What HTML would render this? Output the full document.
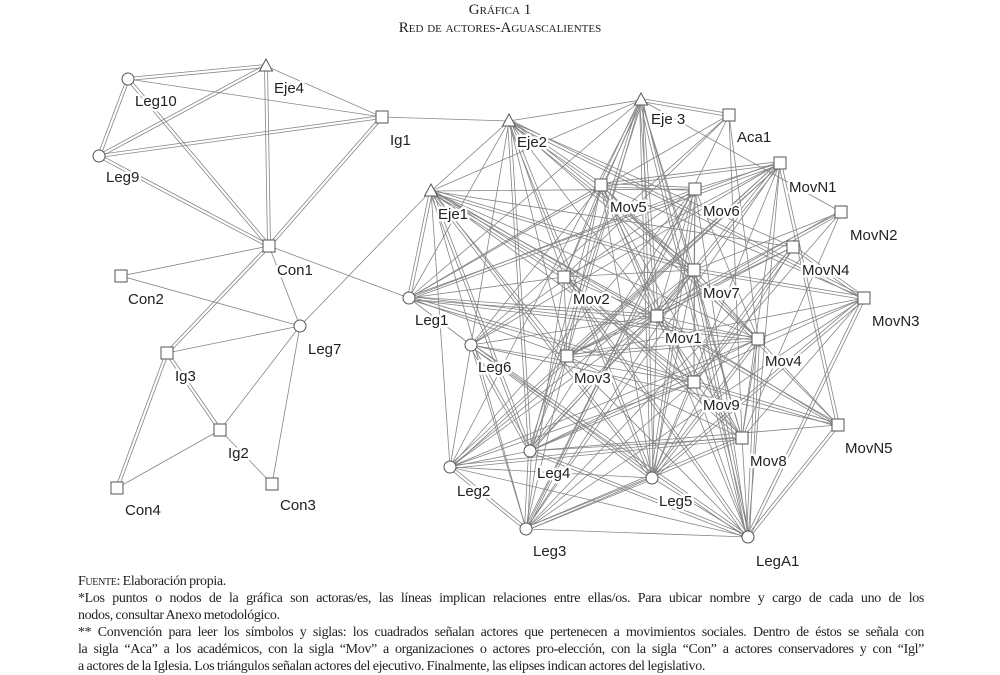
<!DOCTYPE html>
<html><head><meta charset="utf-8">
<style>
html,body{margin:0;padding:0;background:#fff;width:1000px;height:675px;overflow:hidden}
.t{position:absolute;left:0;width:1000px;text-align:center;font-family:"Liberation Serif",serif;font-variant:small-caps;font-size:15px;color:#222}
.foot{position:absolute;left:78px;top:573px;width:846px;font-family:"Liberation Serif",serif;font-size:14px;letter-spacing:-0.35px;word-spacing:-0.5px;line-height:17px;color:#222}
.foot div{text-align:justify;text-align-last:justify;white-space:nowrap}
.foot div.l{text-align-last:left}
svg{position:absolute;left:0;top:0}
</style></head><body>
<div class="t" style="top:2px">Gráfica 1</div>
<div class="t" style="top:20px">Red de actores-Aguascalientes</div>
<svg id="s" width="1000" height="675" xmlns="http://www.w3.org/2000/svg"></svg>
<div class="foot">
<div class="l"><span style="font-variant:small-caps">Fuente</span>: Elaboración propia.</div>
<div>*Los puntos o nodos de la gráfica son actoras/es, las líneas implican relaciones entre ellas/os. Para ubicar nombre y cargo de cada uno de los</div>
<div class="l">nodos, consultar Anexo metodológico.</div>
<div>** Convención para leer los símbolos y siglas: los cuadrados señalan actores que pertenecen a movimientos sociales. Dentro de éstos se señala con</div>
<div>la sigla “Aca” a los académicos, con la sigla “Mov” a organizaciones o actores pro-elección, con la sigla “Con” a actores conservadores y con “Igl”</div>
<div class="l">a actores de la Iglesia. Los triángulos señalan actores del ejecutivo. Finalmente, las elipses indican actores del legislativo.</div>
</div>
<script>
var N={
Leg10:[128,79,'c',135,106],Eje4:[266,66,'t',274,93],Ig1:[382,117,'s',390,145],Leg9:[99,156,'c',106,182],
Con1:[269,246,'s',277,275],Con2:[121,276,'s',128,304],Leg7:[300,326,'c',308,354],Ig3:[167,353,'s',175,381],
Ig2:[220,430,'s',228,458],Con4:[117,488,'s',125,515],Con3:[272,484,'s',280,510],
Eje3:[641,100,'t',651,124],Eje2:[509,121,'t',517,147],Aca1:[729,115,'s',737,142],MovN1:[780,163,'s',789,192],
Mov5:[601,185,'s',610,212],Mov6:[695,189,'s',703,216],Eje1:[431,191,'t',438,219],MovN2:[841,212,'s',850,240],
MovN4:[793,247,'s',802,275],Mov2:[564,277,'s',573,304],Mov7:[694,270,'s',703,298],Leg1:[409,298,'c',415,325],
MovN3:[864,298,'s',872,326],Mov1:[657,316,'s',665,343],Mov4:[758,339,'s',765,366],Leg6:[471,345,'c',478,372],
Mov3:[567,356,'s',574,383],Mov9:[694,382,'s',703,410],Mov8:[742,438,'s',750,466],MovN5:[838,425,'s',845,453],
Leg4:[530,451,'c',537,478],Leg2:[450,467,'c',457,496],Leg5:[652,478,'c',659,506],Leg3:[526,529,'c',533,556],
LegA1:[748,537,'c',756,566]};
var E=[['Leg10','Eje4',2],['Leg10','Ig1',1],['Leg10','Leg9',2],['Leg10','Con1',2],['Leg9','Eje4',2],['Leg9','Ig1',2],
['Leg9','Con1',2],['Eje4','Ig1',1],['Eje4','Con1',2],['Ig1','Con1',2],['Ig1','Eje2',1],['Con1','Con2',1],['Con1','Leg1',1],
['Con1','Leg7',1],['Con1','Ig3',2],['Con2','Leg7',1],['Leg7','Ig3',1],['Leg7','Ig2',1],['Leg7','Con3',1],['Leg7','Eje1',1],
['Ig3','Ig2',2],['Ig3','Con4',2],['Ig2','Con4',1],['Ig2','Con3',1]];
var R=['Eje3','Eje2','Aca1','MovN1','Mov5','Mov6','Eje1','MovN2','MovN4','Mov2','Mov7','Leg1','MovN3','Mov1','Mov4','Leg6','Mov3','Mov9','Mov8','MovN5','Leg4','Leg2','Leg5','Leg3','LegA1'];
var seed=7;function rnd(){seed=(seed*9301+49297)%233280;return seed/233280;}
for(var i=0;i<R.length;i++)for(var j=i+1;j<R.length;j++){
 var a=R[i],b=R[j],p=0.72;
 if(a.indexOf('MovN')==0||b.indexOf('MovN')==0||a=='Aca1'||b=='Aca1')p=0.35;
 var dx=N[a][0]-N[b][0],dy=N[a][1]-N[b][1];if(Math.sqrt(dx*dx+dy*dy)>380)p*=0.6;
 if(rnd()<p)E.push([a,b,rnd()<0.3?2:1]);}
var s='';
E.forEach(function(e){var A=N[e[0]],B=N[e[1]];
 if(e[2]==2){var dx=B[0]-A[0],dy=B[1]-A[1],L=Math.sqrt(dx*dx+dy*dy),nx=-dy/L*1.5,ny=dx/L*1.5;
  s+='<line x1="'+(A[0]+nx)+'" y1="'+(A[1]+ny)+'" x2="'+(B[0]+nx)+'" y2="'+(B[1]+ny)+'"/>';
  s+='<line x1="'+(A[0]-nx)+'" y1="'+(A[1]-ny)+'" x2="'+(B[0]-nx)+'" y2="'+(B[1]-ny)+'"/>';}
 else s+='<line x1="'+A[0]+'" y1="'+A[1]+'" x2="'+B[0]+'" y2="'+B[1]+'"/>';});
var g='<g stroke="#858585" stroke-width="0.8">'+s+'</g><g fill="#fff" stroke="#555" stroke-width="1">';
var t='<g font-family="Liberation Sans, sans-serif" font-size="15" fill="#222" stroke="#fff" stroke-width="5" paint-order="stroke" stroke-linejoin="round">';
for(var k in N){var n=N[k],x=n[0],y=n[1];
 if(n[2]=='c')g+='<circle cx="'+x+'" cy="'+y+'" r="6"/>';
 else if(n[2]=='s')g+='<rect x="'+(x-6)+'" y="'+(y-6)+'" width="12" height="12"/>';
 else g+='<polygon points="'+x+','+(y-7)+' '+(x-6.5)+','+(y+5)+' '+(x+6.5)+','+(y+5)+'"/>';
 t+='<text x="'+n[3]+'" y="'+n[4]+'">'+(k=='Eje3'?'Eje 3':k)+'</text>';}
document.getElementById('s').innerHTML=g+'</g>'+t+'</g>';
</script>
</body></html>
